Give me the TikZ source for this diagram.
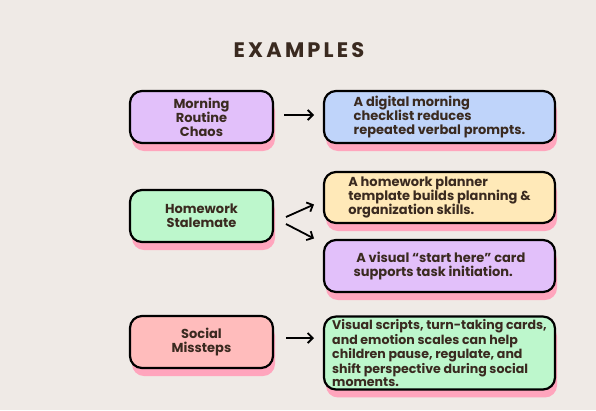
\documentclass[tikz,border=0pt]{standalone}
\usepackage{fontspec}
\setmainfont{Poppins}
\usetikzlibrary{arrows.meta,shadows}
\definecolor{bg}{HTML}{EFEAE6}
\definecolor{ink}{HTML}{3A2A20}
\definecolor{shadowpink}{HTML}{FFA5BD}
\definecolor{lav}{HTML}{E2C0FA}
\definecolor{sky}{HTML}{BFD4FA}
\definecolor{mint}{HTML}{BDF7CC}
\definecolor{butter}{HTML}{FFE9B8}
\definecolor{rose}{HTML}{FFBCBC}
\begin{document}
\begin{tikzpicture}[x=1pt,y=-1pt,
  card/.style={draw=black, line width=2.2pt, rounded corners=12pt,
    text=ink, font=\bfseries\fontsize{13}{14}\selectfont,
    minimum height=52pt, inner sep=3pt,
    general shadow={shadow xshift=2pt, shadow yshift=-8pt, fill=shadowpink}},
  lcard/.style={card, minimum width=143pt, align=center},
  rcard/.style={card, minimum width=231pt, align=left},
  link/.style={line width=1.8pt, -{Straight Barb[length=5pt,width=10pt,line width=1.8pt]}}]
\fill[bg] (0,0) rectangle (596,410);
\node[text=ink, font=\bfseries\fontsize{21}{24}\selectfont\addfontfeatures{LetterSpace=15}] (title) at (299,50) {EXAMPLES};

\node[lcard, fill=lav] (l1) at (201.5,117) {Morning\\Routine\\Chaos};
\node[rcard, fill=sky] (r1) at (439.5,117) {A digital morning\\checklist reduces\\repeated verbal prompts.};

\node[lcard, fill=mint] (l2) at (201.5,216) {Homework\\Stalemate};
\node[rcard, fill=butter, minimum height=51pt] (r2a) at (439.5,197.5) {A homework planner\\template builds planning \&\\organization skills.};
\node[rcard, fill=lav] (r2b) at (439.5,266) {\ A visual “start here” card\\supports task initiation.};

\node[lcard, fill=rose] (l3) at (201.5,342) {Social\\Missteps};
\node[rcard, fill=mint, minimum height=66pt, inner xsep=1pt, font=\bfseries\fontsize{12.6}{12}\selectfont] (r3) at (439.5,353) {Visual scripts, turn-taking cards,\\and emotion scales can help\\children pause, regulate, and\\shift perspective during social\\moments.};

\coordinate (a1s) at (284,115);
\coordinate (a1e) at (314,115);
\draw[link] (a1s) -- (a1e);
\coordinate (a2s) at (286,217);
\coordinate (a2e) at (314,204.5);
\draw[link] (a2s) -- (a2e);
\coordinate (a3s) at (286,224);
\coordinate (a3e) at (314,238.5);
\draw[link] (a3s) -- (a3e);
\coordinate (a4s) at (286,338);
\coordinate (a4e) at (314,338);
\draw[link] (a4s) -- (a4e);
\end{tikzpicture}
\end{document}
